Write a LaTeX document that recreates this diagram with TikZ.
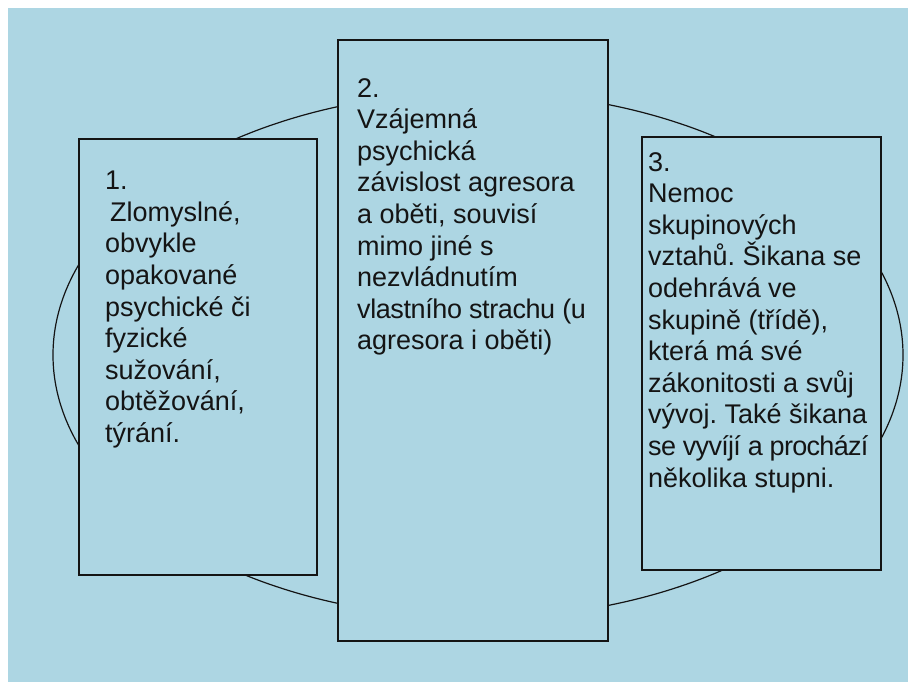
\documentclass[tikz,border=0pt]{standalone}
\usepackage{fontspec}
\setmainfont{Liberation Sans}
\usetikzlibrary{shapes.geometric}
\definecolor{bgblue}{RGB}{173,214,227}
\definecolor{inkline}{RGB}{20,20,20}
\frenchspacing
\begin{document}
\begin{tikzpicture}[x=1pt,y=-1pt,
  panel/.style={draw=inkline,line width=1.6pt,fill=bgblue,rectangle,anchor=north west,inner sep=0pt},
  ringline/.style={draw=inkline,line width=1.2pt,ellipse,inner sep=0pt},
  paneltext/.style={anchor=north west,inner sep=0pt,align=left,text=inkline,
    font=\fontsize{27}{31.6}\selectfont\frenchspacing}]
\useasboundingbox (0,0) rectangle (908,682);
\fill[white] (0,0) rectangle (908,682);
\fill[bgblue] (8,8) rectangle (908,682);
\node[ringline,minimum width=850pt,minimum height=526pt] (ring) at (478,355) {};
\node[panel,minimum width=238pt,minimum height=436pt] (box1) at (78,138) {};
\node[panel,minimum width=270pt,minimum height=601pt] (box2) at (337,39) {};
\node[panel,minimum width=239pt,minimum height=433pt] (box3) at (641,136) {};
\node[paneltext] (t1) at (105,171) {1.\\\hspace{5pt}Zlomyslné,\\obvykle\\opakované\\psychické či\\fyzické\\sužování,\\obtěžování,\\týrání.};
\node[paneltext] (t2) at (357,78) {2.\\Vzájemná\\psychická\\závislost agresora\\a oběti, souvisí\\mimo jiné s\\nezvládnutím\\{\addfontfeature{LetterSpace=-1.5}vlastního strachu (u}\\agresora i oběti)};
\node[paneltext] (t3) at (648,152) {3.\\Nemoc\\skupinových\\vztahů. Šikana se\\odehrává ve\\skupině (třídě),\\která má své\\zákonitosti a svůj\\vývoj. Také šikana\\{\addfontfeature{LetterSpace=-2.5}se vyvíjí a prochází}\\několika stupni.};
\end{tikzpicture}
\end{document}
